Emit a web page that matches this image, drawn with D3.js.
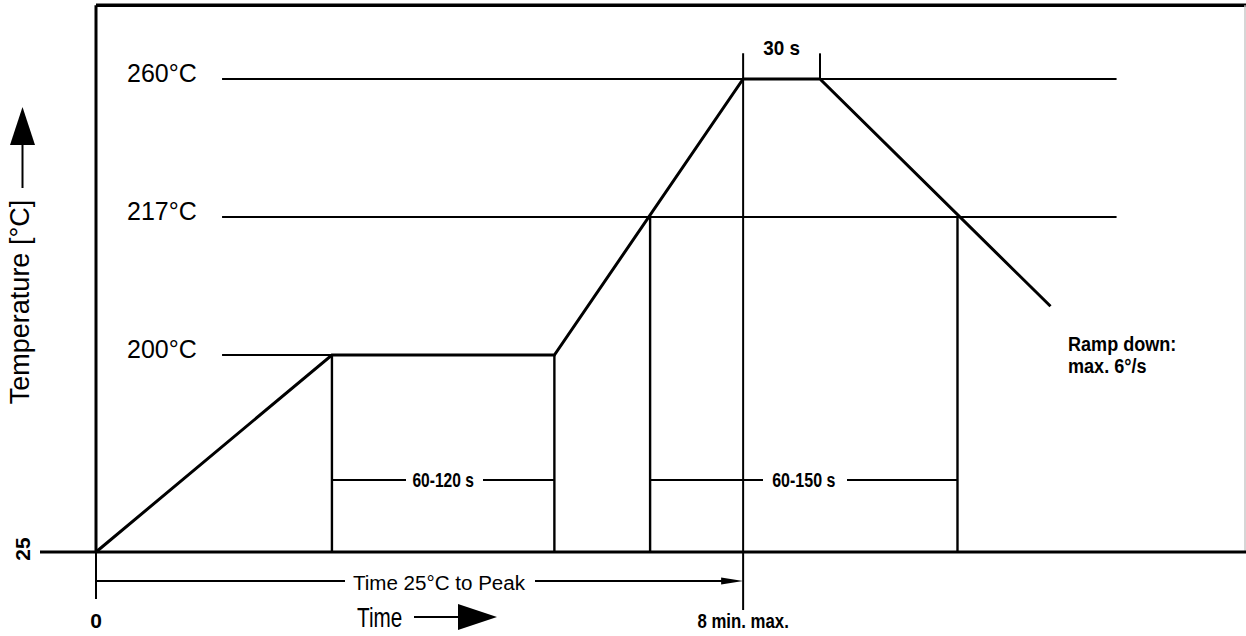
<!DOCTYPE html>
<html>
<head>
<meta charset="utf-8">
<script src="https://cdn.jsdelivr.net/npm/d3@7"></script>
<style>
body { margin: 0; background: #fff; }
svg { display: block; }
text { font-family: "Liberation Sans", Arial, Helvetica, sans-serif; fill: #000; }
</style>
</head>
<body>
<svg width="1246" height="636"></svg>
<script>
// reflow profile, drawn as a schematic (time axis not to scale)
const levels = [260, 217, 200]
const levelLabels = ["260°C", "217°C", "200°C"]
const levelEnds = [757, 757, 175]          // where each reference line stops (s)
const profileTime = [0, 175, 340, 480, 537, 708]
const profileTemp = [25, 200, 200, 260, 260, 206]
const soakTimes = [175, 340]                // 60-120 s window at 200°C
const liquidusTimes = [411, 639]            // 60-150 s window above 217°C
const peakTimes = [480, 537]                // 30 s at peak
const peakTime = 480                        // 8 min. max.

const svg = d3.select("svg")
const W = +svg.attr("width")

const x = d3.scaleLinear().domain([0, 853]).range([96, 1246])
// piecewise scale, the drawing is not linear in temperature
const y = d3.scaleLinear().domain([25, 200, 217, 260]).range([552, 355, 217, 79])
const y0 = y(25)
const topT = 283
const tickT = 268
const dimT = 89

function line(x1, y1, x2, y2, w, col) {
    return svg.append("line")
    .attr("x1", x1).attr("y1", y1).attr("x2", x2).attr("y2", y2)
    .attr("stroke", col || "#000").attr("stroke-width", w || 2)
}

function txt(px, py, s, size, weight, anchor, sx, rot) {
    svg.append("g")
    .attr("transform", "translate(" + px + "," + py + ") rotate(" + (rot || 0) + ") scale(" + (sx || 1) + ",1)")
    .append("text")
    .attr("text-anchor", anchor || "start")
    .attr("font-size", size)
    .attr("font-weight", weight || "normal")
    .text(s)
}

// frame
line(x(0), y(topT), W, y(topT), 3.5)
line(x(0), y(topT), x(0), y0, 3)
line(W - 1, y(topT), W - 1, y0, 1.5, "#c8c8c8")
line(40, y0, W, y0, 3)
line(x(0), y0, x(0), y0 + 47, 2)

// reference levels
levels.forEach(function (t, i) {
    line(x(93.5), y(t), x(levelEnds[i]), y(t), 2.2)
    txt(127, y(t) + 3, levelLabels[i], 25)
})

// markers down to the base line
soakTimes.forEach(function (t) { line(x(t), y(200), x(t), y0, 2.4) })
liquidusTimes.forEach(function (t) { line(x(t), y(217), x(t), y0, 2.4) })
line(x(peakTime), y(tickT), x(peakTime), y0 + 58, 2)
line(x(peakTimes[1]), y(tickT), x(peakTimes[1]), y(260), 2)

// profile
const prof = profileTime.map(function (t, i) { return [t, profileTemp[i]] })
svg.append("path")
.datum(prof)
.attr("d", d3.line().x(d => x(d[0])).y(d => y(d[1])))
.attr("fill", "none")
.attr("stroke", "#000")
.attr("stroke-width", 3)
.attr("stroke-linejoin", "miter")

// dimension lines
const dy = y(dimT)
line(x(soakTimes[0]), dy, 406, dy, 2)
line(483, dy, x(soakTimes[1]), dy, 2)
txt((x(soakTimes[0]) + x(soakTimes[1])) / 2, dy + 7, "60-120 s", 20, "bold", "middle", 0.78)

line(x(liquidusTimes[0]), dy, 763, dy, 2)
line(847, dy, x(liquidusTimes[1]), dy, 2)
txt((x(liquidusTimes[0]) + x(liquidusTimes[1])) / 2, dy + 7, "60-150 s", 20, "bold", "middle", 0.8)

txt((x(peakTimes[0]) + x(peakTimes[1])) / 2, 55, "30 s", 21, "bold", "middle", 0.9)

// time 25°C to peak
const ay = y0 + 29
line(x(0), ay, 345, ay, 2)
line(535, ay, x(peakTime) - 18, ay, 2)
svg.append("path")
.attr("d", d3.line()([[x(peakTime), ay], [x(peakTime) - 22, ay - 3.5], [x(peakTime) - 22, ay + 3.5]]))
.attr("fill", "#000")
txt(439, ay + 9, "Time 25°C to Peak", 21, "normal", "middle", 0.98)

// ramp down note
txt(1068, 351, "Ramp down:", 21, "bold", "start", 0.86)
txt(1068, 373, "max. 6°/s", 21, "bold", "start", 0.86)

// x axis labels
txt(x(0), 628, "0", 21, "bold", "middle", 1)
txt(x(peakTime), 628, "8 min. max.", 20, "bold", "middle", 0.84)
txt(357, 627, "Time", 28, "normal", "start", 0.74)
line(414, 617, 460, 617, 2)
svg.append("path")
.attr("d", d3.line()([[458, 604], [458, 630], [497, 617]]))
.attr("fill", "#000")

// y axis labels
txt(30, 549, "25", 21, "bold", "middle", 1, -90)
txt(29, 302, "Temperature [°C]", 27, "normal", "middle", 1, -90)
line(22.5, 144, 22.5, 188, 2)
svg.append("path")
.attr("d", d3.line()([[10, 145], [35, 145], [22.5, 107]]))
.attr("fill", "#000")
</script>
</body>
</html>
